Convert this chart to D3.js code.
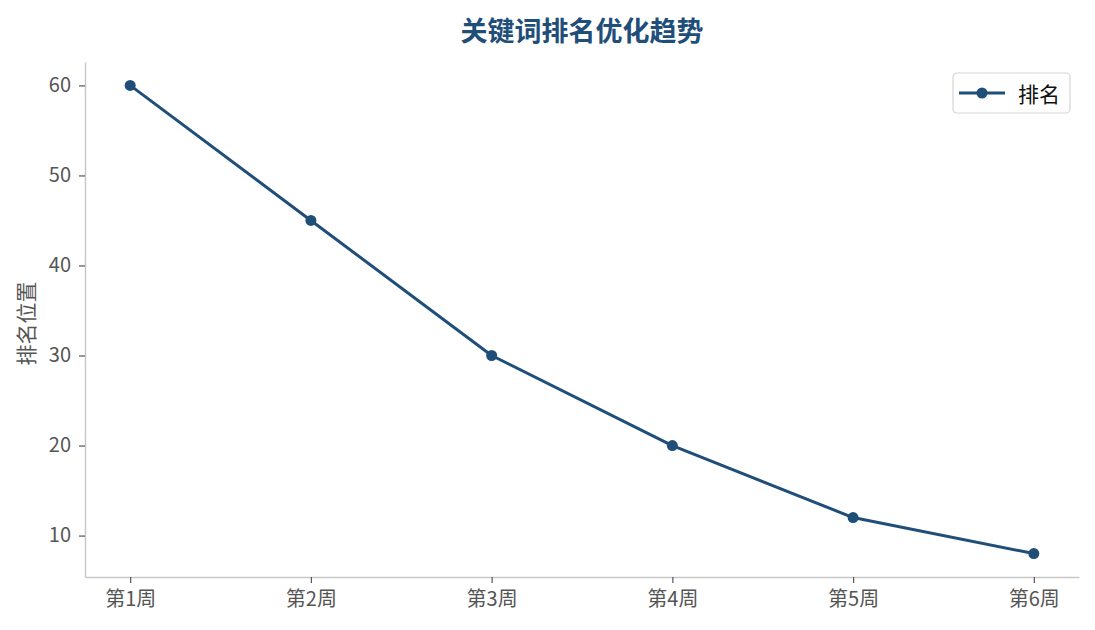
<!DOCTYPE html>
<html>
<head>
<meta charset="utf-8">
<script src="https://cdn.jsdelivr.net/npm/d3@7"></script>
<style>
  body { margin: 0; background: #fff; }
  svg text { font-family: "Noto Sans CJK SC", "Noto Sans", sans-serif; }
</style>
</head>
<body>
<svg id="lineChart"></svg>
<script>
// data
var weeks = ["第1周", "第2周", "第3周", "第4周", "第5周", "第6周"];
var ranks = [60, 45, 30, 20, 12, 8];
var yTicks = [10, 20, 30, 40, 50, 60];

var seriesName = "排名";
var titleText = "关键词排名优化趋势";
var yLabelText = "排名位置";

var lineColor = "#1f4e79";
var tickColor = "#555555";
var spineColor = "#c8c8c8";

var initChart = function()
{
    var screen = {width:1095, height:630};
    var margins = {top:62, bottom:53, left:85, right:16};
    var graph = {
        width:screen.width-margins.left-margins.right,
        height:screen.height-margins.top-margins.bottom
    };

    var svg = d3.select("svg#lineChart")
        .attr("width",screen.width)
        .attr("height",screen.height);

    // matplotlib style 5% padding around the data
    var xScale = d3.scaleLinear()
        .domain([-0.25, weeks.length-1+0.25])
        .range([0, graph.width]);

    var yMin = d3.min(ranks), yMax = d3.max(ranks);
    var pad = (yMax-yMin)*0.05;
    var yScale = d3.scaleLinear()
        .domain([yMin-pad, yMax+pad])
        .range([graph.height, 0]);

    var g = svg.append("g")
        .attr("transform","translate("+margins.left+","+margins.top+")");

    // axes
    var xAxis = d3.axisBottom(xScale)
        .tickValues(d3.range(weeks.length))
        .tickFormat(function(i){ return weeks[i]; })
        .tickSizeInner(6).tickSizeOuter(0).tickPadding(7);
    var yAxis = d3.axisLeft(yScale)
        .tickValues(yTicks)
        .tickSizeInner(6).tickSizeOuter(0).tickPadding(8);

    var xg = g.append("g")
        .attr("transform","translate(0,"+graph.height+")")
        .call(xAxis);
    var yg = g.append("g").call(yAxis);

    [xg, yg].forEach(function(ax){
        ax.select(".domain").attr("stroke",spineColor).attr("stroke-width",1.5);
        ax.selectAll(".tick line").attr("stroke",tickColor).attr("stroke-width",1.2);
        ax.selectAll(".tick text")
            .attr("fill",tickColor)
            .style("font-size","20px");
    });
    xg.selectAll(".tick text").attr("dy","0.8em");

    // line + markers
    var lineGenerator = d3.line()
        .x(function(d,i){ return xScale(i); })
        .y(function(d){ return yScale(d); });

    g.append("path")
        .datum(ranks)
        .attr("fill","none")
        .attr("stroke",lineColor)
        .attr("stroke-width",3)
        .attr("stroke-linejoin","round")
        .attr("d",lineGenerator);

    g.selectAll("circle.pt")
        .data(ranks)
        .enter()
        .append("circle")
        .classed("pt",true)
        .attr("cx",function(d,i){ return xScale(i); })
        .attr("cy",function(d){ return yScale(d); })
        .attr("r",5.5)
        .attr("fill",lineColor);

    // title
    svg.append("text")
        .text(titleText)
        .attr("x",margins.left+graph.width/2)
        .attr("y",29)
        .attr("text-anchor","middle")
        .attr("dominant-baseline","central")
        .attr("fill",lineColor)
        .style("font-size","27px")
        .style("font-weight","bold");

    // y label
    svg.append("g")
        .attr("transform","translate(25,"+(margins.top+graph.height/2+4)+")")
        .append("text")
        .text(yLabelText)
        .attr("transform","rotate(-90)")
        .attr("text-anchor","middle")
        .attr("dominant-baseline","central")
        .attr("fill",tickColor)
        .style("font-size","21px");

    // legend
    var legend = svg.append("g")
        .attr("transform","translate(953,73)");
    legend.append("rect")
        .attr("width",117).attr("height",40)
        .attr("rx",4)
        .attr("fill","#fff")
        .attr("stroke","#d6d6d6")
        .attr("stroke-width",1.2);
    legend.append("line")
        .attr("x1",6).attr("x2",52)
        .attr("y1",20).attr("y2",20)
        .attr("stroke",lineColor)
        .attr("stroke-width",3);
    legend.append("circle")
        .attr("cx",29).attr("cy",20).attr("r",5.5)
        .attr("fill",lineColor);
    legend.append("text")
        .text(seriesName)
        .attr("x",65).attr("y",20)
        .attr("dominant-baseline","central")
        .attr("fill","#111")
        .style("font-size","21px");
}

initChart();
</script>
</body>
</html>
